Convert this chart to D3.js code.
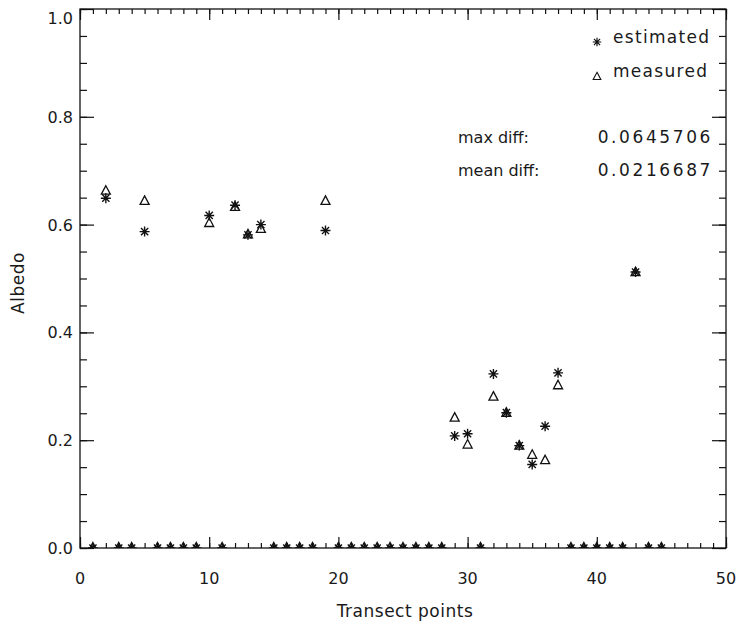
<!DOCTYPE html>
<html>
<head>
<meta charset="utf-8">
<script src="https://cdn.jsdelivr.net/npm/d3@7"></script>
<style>
  body { margin: 0; background: #fff; }
  text { font-family: "DejaVu Sans", sans-serif; fill: #1a1a1a; }
</style>
</head>
<body>
<svg id="chart" width="740" height="631"></svg>
<script>
// transect point index and albedo values (0 = no data at that point)
var transect = [1, 2, 3, 4, 5, 6, 7, 8, 9, 10, 11, 12, 13, 14, 15, 16, 17, 18, 19, 20,
  21, 22, 23, 24, 25, 26, 27, 28, 29, 30, 31, 32, 33, 34, 35, 36, 37, 38, 39, 40,
  41, 42, 43, 44, 45];
var estimated = [0, 0.649, 0, 0, 0.587, 0, 0, 0, 0, 0.617, 0, 0.636, 0.581, 0.600, 0, 0, 0, 0, 0.589, 0,
  0, 0, 0, 0, 0, 0, 0, 0, 0.208, 0.212, 0, 0.323, 0.251, 0.190, 0.155, 0.226, 0.325, 0, 0, 0,
  0, 0, 0.512, 0, 0];
var measured = [0, 0.662, 0, 0, 0.643, 0, 0, 0, 0, 0.602, 0, 0.632, 0.581, 0.591, 0, 0, 0, 0, 0.643, 0,
  0, 0, 0, 0, 0, 0, 0, 0, 0.241, 0.191, 0, 0.280, 0.250, 0.189, 0.172, 0.162, 0.301, 0, 0, 0,
  0, 0, 0.511, 0, 0];

var xMajor = [0, 10, 20, 30, 40, 50];
var yMajor = [0.0, 0.2, 0.4, 0.6, 0.8, 1.0];
var legendNames = ["estimated", "measured"];
var statNames = ["max diff:", "mean diff:"];
var statValues = ["0.0645706", "0.0216687"];

var svg = d3.select("#chart");
var pLeft = 80, pRight = 726, pTop = 9, pBottom = 548;

var x = d3.scaleLinear().domain([0, 50]).range([pLeft, pRight]);
var y = d3.scaleLinear().domain([0, 1]).range([pBottom, pTop]);

var xMinor = d3.range(0, 51, 1);
var yMinor = d3.range(0, 1.0001, 0.05);

// symbol paths (IDL style)
var asterisk = "M-5,0H5M0,-5V5M-3.6,-3.6L3.6,3.6M-3.6,3.6L3.6,-3.6";
var triangle = "M0,-5.5L4.5,3L-4.5,3Z";

svg.append("clipPath").attr("id", "plotclip")
  .append("rect").attr("x", pLeft).attr("y", pTop)
  .attr("width", pRight - pLeft).attr("height", pBottom - pTop);

var pts = svg.append("g").attr("clip-path", "url(#plotclip)");

pts.selectAll(".meas").data(transect).enter().append("path")
  .attr("class", "meas")
  .attr("d", triangle)
  .attr("transform", function(d, i) { return "translate(" + x(d) + "," + y(measured[i]) + ")"; })
  .attr("fill", "none").attr("stroke", "#111").attr("stroke-width", 1.3);

pts.selectAll(".est").data(transect).enter().append("path")
  .attr("class", "est")
  .attr("d", asterisk)
  .attr("transform", function(d, i) { return "translate(" + x(d) + "," + y(estimated[i]) + ")"; })
  .attr("fill", "none").attr("stroke", "#111").attr("stroke-width", 1.4);

// ticks, drawn inward on all four sides
function tickAxis(axis, pos, vals, size) {
  var g = svg.append("g").attr("transform", pos)
    .call(axis.tickValues(vals).tickSize(size).tickFormat(""));
  g.select(".domain").remove();
  g.selectAll("line").attr("stroke", "#111").attr("stroke-width", 1.2);
  return g;
}
tickAxis(d3.axisBottom(x), "translate(0," + pBottom + ")", xMinor, -5);
tickAxis(d3.axisBottom(x), "translate(0," + pBottom + ")", xMajor, -11);
tickAxis(d3.axisTop(x), "translate(0," + pTop + ")", xMinor, -5);
tickAxis(d3.axisTop(x), "translate(0," + pTop + ")", xMajor, -11);
tickAxis(d3.axisLeft(y), "translate(" + pLeft + ",0)", yMinor, -7);
tickAxis(d3.axisLeft(y), "translate(" + pLeft + ",0)", yMajor, -14);
tickAxis(d3.axisRight(y), "translate(" + pRight + ",0)", yMinor, -7);
tickAxis(d3.axisRight(y), "translate(" + pRight + ",0)", yMajor, -14);

svg.append("rect")
  .attr("x", pLeft).attr("y", pTop)
  .attr("width", pRight - pLeft).attr("height", pBottom - pTop)
  .attr("fill", "none").attr("stroke", "#111").attr("stroke-width", 1.3);

// tick labels
svg.selectAll(".xlab").data(xMajor).enter().append("text")
  .attr("class", "xlab")
  .attr("x", function(d) { return x(d); })
  .attr("y", 584)
  .attr("text-anchor", "middle")
  .attr("font-size", 16)
  .text(function(d) { return d; });

svg.selectAll(".ylab").data(yMajor).enter().append("text")
  .attr("class", "ylab")
  .attr("x", 73)
  .attr("y", function(d) { return d === 1 ? y(d) + 15 : y(d) + 6; })
  .attr("text-anchor", "end")
  .attr("font-size", 16)
  .text(function(d) { return d3.format(".1f")(d); });

// axis titles
svg.append("text")
  .attr("x", 405).attr("y", 617)
  .attr("text-anchor", "middle")
  .attr("font-size", 17).attr("letter-spacing", 0.5)
  .text("Transect points");

svg.append("text")
  .attr("transform", "translate(24,283) rotate(-90)")
  .attr("text-anchor", "middle")
  .attr("font-size", 17).attr("letter-spacing", 0.5)
  .text("Albedo");

// legend
var legY = [37, 71];
var legend = svg.append("g");
legend.selectAll("text").data(legendNames).enter().append("text")
  .attr("x", 613)
  .attr("y", function(d, i) { return legY[i] + 6; })
  .attr("font-size", 17).attr("letter-spacing", 1.3)
  .text(function(d) { return d; });
legend.append("path").attr("d", asterisk)
  .attr("transform", "translate(597," + (legY[0] + 5) + ") scale(0.85)")
  .attr("fill", "none").attr("stroke", "#111").attr("stroke-width", 1.4);
legend.append("path").attr("d", triangle)
  .attr("transform", "translate(597," + (legY[1] + 6) + ") scale(0.85)")
  .attr("fill", "none").attr("stroke", "#111").attr("stroke-width", 1.3);

// difference stats
var statY = [137, 170];
svg.selectAll(".statn").data(statNames).enter().append("text")
  .attr("class", "statn")
  .attr("x", 458)
  .attr("y", function(d, i) { return statY[i] + 6; })
  .attr("font-size", 16)
  .text(function(d) { return d; });
svg.selectAll(".statv").data(statValues).enter().append("text")
  .attr("class", "statv")
  .attr("x", 713)
  .attr("y", function(d, i) { return statY[i] + 6; })
  .attr("text-anchor", "end")
  .attr("font-size", 17).attr("letter-spacing", 2.6)
  .text(function(d) { return d; });
</script>
</body>
</html>
